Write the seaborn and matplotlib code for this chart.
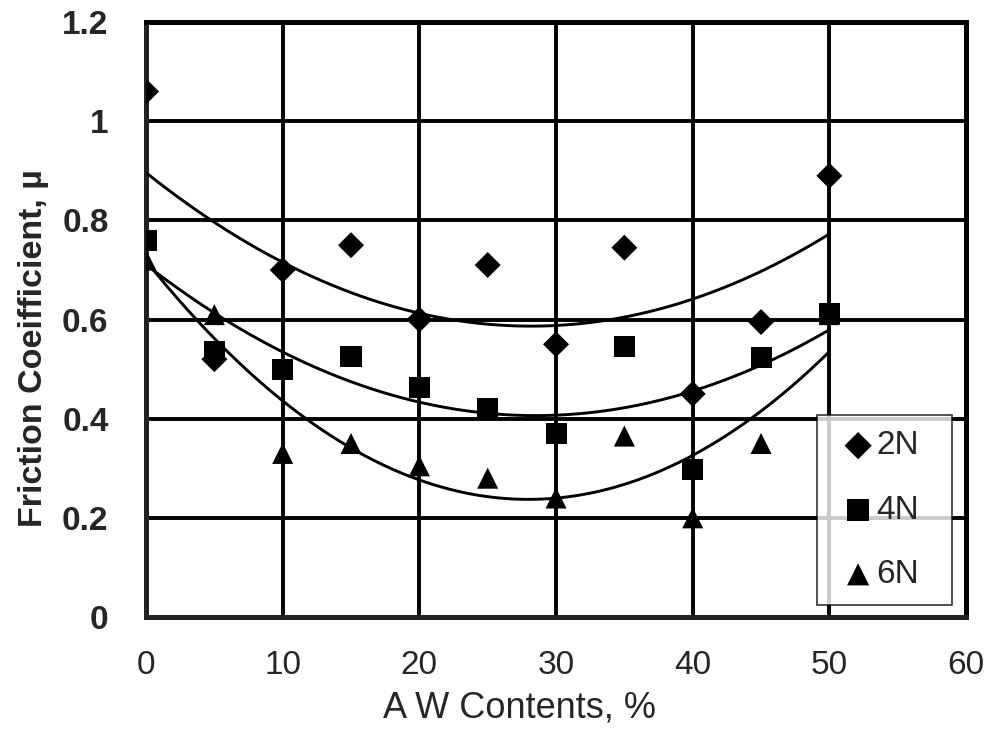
import matplotlib
matplotlib.use("Agg")
import matplotlib.pyplot as plt
import seaborn as sns
import numpy as np
import pandas as pd

# AW content (%) and friction coefficient for each load
aw_content = [0, 5, 10, 15, 20, 25, 30, 35, 40, 45, 50]
mu_2n = [1.06, 0.52, 0.70, 0.75, 0.60, 0.71, 0.55, 0.745, 0.45, 0.595, 0.89]
mu_4n = [0.76, 0.535, 0.50, 0.525, 0.462, 0.42, 0.37, 0.545, 0.297, 0.523, 0.613]
# the 6N point at 50 % sits under the 4N square
mu_6n = [0.72, 0.61, 0.33, 0.35, 0.305, 0.28, 0.24, 0.365, 0.20, 0.35, 0.61]

series = [
    ("2N", mu_2n, "D", 175, 5),
    ("6N", mu_6n, "^", 230, 4),
    ("4N", mu_4n, "s", 230, 6),
]

sns.set_style("white")
plt.rcParams["font.family"] = ["Liberation Sans", "DejaVu Sans"]

fig = plt.figure(figsize=(9.9, 7.38), dpi=100)
ax = fig.add_axes([0.1475, 0.164, 0.8283, 0.806])

# second-order trendlines, as in the original spreadsheet chart
xs = np.linspace(0, 50, 200)
for name, y, marker, size, z in series:
    coef = np.polyfit(aw_content, y, 2)
    ax.plot(xs, np.polyval(coef, xs), color="black", lw=2.1, zorder=3)

for name, y, marker, size, z in series:
    df = pd.DataFrame({"x": aw_content, "y": y})
    sns.scatterplot(data=df, x="x", y="y", marker=marker, s=size,
                    color="black", edgecolor="none", label=name, ax=ax, zorder=z)

ax.set_xlim(0, 60)
ax.set_ylim(0, 1.2)
ax.set_xticks(range(0, 61, 10))
ax.set_yticks([0, 0.2, 0.4, 0.6, 0.8, 1, 1.2])
ax.set_yticklabels(["0", "0.2", "0.4", "0.6", "0.8", "1", "1.2"])
ax.grid(True, color="black", lw=2.8)
ax.set_axisbelow(True)

for side in ["top", "right"]:
    ax.spines[side].set_color("black")
    ax.spines[side].set_linewidth(3.6)
for side in ["left", "bottom"]:
    ax.spines[side].set_color("#222222")
    ax.spines[side].set_linewidth(3.6)

ax.tick_params(axis="both", direction="out", length=7, width=1.0, color="#999999",
               labelsize=24)
ax.tick_params(axis="x", pad=17)
ax.tick_params(axis="y", pad=20)
for lbl in ax.get_yticklabels():
    lbl.set_fontweight("bold")

ax.set_xlabel("A W Contents, %", fontsize=26)
ax.xaxis.set_label_coords(0.455, -0.123)
ax.set_ylabel("Friction Coeifficient, \u00b5", fontsize=24.5, fontweight="bold")
ax.yaxis.set_label_coords(-0.118, 0.452)

handles, labels = ax.get_legend_handles_labels()
order = [labels.index(n) for n in ["2N", "4N", "6N"]]
leg = ax.legend([handles[i] for i in order], [labels[i] for i in order],
                loc="lower left", bbox_to_anchor=(0.818, 0.02, 0.1646, 0.3),
                mode="expand", fontsize=24, frameon=True, fancybox=False,
                handletextpad=-0.25, labelspacing=1.0, borderpad=0.45,
                handlelength=1.58, borderaxespad=0.0, markerscale=1.05)
leg.get_frame().set_edgecolor("black")
leg.get_frame().set_linewidth(1.2)
leg.set_zorder(10)

fig.savefig("out.png", dpi=100)
